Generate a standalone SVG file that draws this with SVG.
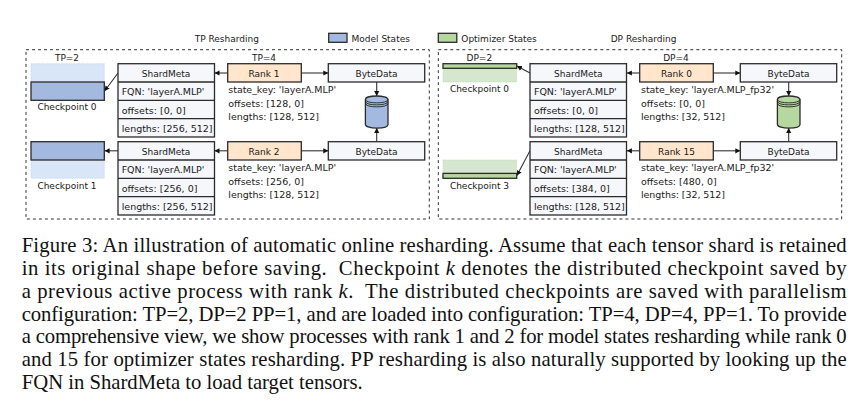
<svg xmlns="http://www.w3.org/2000/svg" width="862" height="418" viewBox="0 0 862 418">
<style>
text{font-family:"DejaVu Sans",sans-serif;font-size:9px;fill:#1a1a1a}
.m{text-anchor:middle}
.d{font-size:9.5px}
.cap{font-family:"Liberation Serif",serif;font-size:20.7px;fill:#111}
.b{stroke:#2b2b2b;stroke-width:1.3}
.shard{fill:#f6f7fb}
.rank{fill:#ffe6cc}
.byte{fill:#f6f7fb}
.blue{fill:#a4b9e0}
.lblue{fill:#d9e6f8;stroke:#b9cdea;stroke-width:.6;stroke-dasharray:1.5 1}
.green{fill:#b6d7a0}
.lgreen{fill:#d6e7cf;stroke:#b9d5ad;stroke-width:.6;stroke-dasharray:1.5 1}
.dash{fill:none;stroke:#333;stroke-width:1;stroke-dasharray:3 3}
.c{fill:none;stroke:#333;stroke-width:1.1;marker-end:url(#a)}
.ring{fill:none;stroke:#222;stroke-width:.9}
</style>
<defs>
<marker id="a" markerUnits="userSpaceOnUse" markerWidth="6" markerHeight="6" refX="5" refY="3" orient="auto"><path d="M0 .4L5 3L0 5.6z" fill="#111"/></marker>
<g id="cyl" class="b">
<path d="M0 3.5C0 -1.2 22.6 -1.2 22.6 3.5V28.5C22.6 33.2 0 33.2 0 28.5Z"/>
<path class="ring" d="M0 3.5C0 8 22.6 8 22.6 3.5M0 5.5C0 10 22.6 10 22.6 5.5M0 7.5C0 12 22.6 12 22.6 7.5"/>
</g>
<g id="meta">
<rect class="b shard" width="96.5" height="73.3"/>
<path class="b" fill="none" d="M0 18.3H96.5M0 36.6H96.5M0 55H96.5"/>
</g>
</defs>

<rect class="dash" x="26" y="49.7" width="403.3" height="169.3"/>
<rect class="dash" x="438.3" y="49.7" width="403.4" height="169.3"/>

<g id="titles">
<text x="194.7" y="41.7">TP Resharding</text>
<text x="610.7" y="41.7">DP Resharding</text>
<text x="67" y="60.7" class="m">TP=2</text>
<text x="264" y="60.7" class="m">TP=4</text>
<text x="479.3" y="60.7" class="m">DP=2</text>
<text x="676" y="60.7" class="m">DP=4</text>
</g>

<g id="legend-model"><rect class="b blue" x="328.7" y="33.3" width="18.3" height="9"/><text x="351.5" y="41.7">Model States</text></g>
<g id="legend-optimizer"><rect class="b green" x="438.3" y="33.3" width="18.5" height="9"/><text x="461.3" y="41.7">Optimizer States</text></g>

<g id="connectors">
<path class="c" d="M118 73L104.6 91"/>
<path class="c" d="M118 150.8H104.6"/>
<path class="c" d="M227.7 73H214.5"/>
<path class="c" d="M227.7 150.8H214.5"/>
<path class="c" d="M301.3 73H328.3"/>
<path class="c" d="M301.3 150.8H328.3"/>
<path class="c" d="M376.7 82V96"/>
<path class="c" d="M376.7 141.7V128"/>
<path class="c" d="M530 73L516.9 66"/>
<path class="c" d="M530 150.8L516.9 175.6"/>
<path class="c" d="M639.7 73H626.9"/>
<path class="c" d="M639.7 150.8H626.9"/>
<path class="c" d="M713.3 73H740.3"/>
<path class="c" d="M713.3 150.8H740.3"/>
<path class="c" d="M788.7 82V96"/>
<path class="c" d="M788.7 141.7V128"/>
</g>

<g id="checkpoint-tp0"><rect class="lblue" x="31" y="63.7" width="73.3" height="18.3"/><rect class="b blue" x="31" y="82" width="73.3" height="18.3"/><text x="67" y="110" class="m">Checkpoint 0</text></g>
<g id="checkpoint-tp1"><rect class="lblue" x="31" y="160" width="73.3" height="18.3"/><rect class="b blue" x="31" y="141.7" width="73.3" height="18.3"/><text x="67" y="188.7" class="m">Checkpoint 1</text></g>

<g id="shardmeta-tp1"><use href="#meta" x="118" y="63.7"/><text x="166" y="76.7" class="m">ShardMeta</text><text class="d" x="121.7" y="94.7" textLength="82.7">FQN: 'layerA.MLP'</text><text class="d" x="121.7" y="113.7" textLength="64">offsets: [0, 0]</text><text class="d" x="121.7" y="132" textLength="90.7">lengths: [256, 512]</text></g>
<g id="shardmeta-tp2"><use href="#meta" x="118" y="141.7"/><text x="166" y="154.7" class="m">ShardMeta</text><text class="d" x="121.7" y="172.7" textLength="82.7">FQN: 'layerA.MLP'</text><text class="d" x="121.7" y="191.7" textLength="75.7">offsets: [256, 0]</text><text class="d" x="121.7" y="210" textLength="90.7">lengths: [256, 512]</text></g>

<g id="rank-1"><rect class="b rank" x="227.7" y="63.7" width="73.6" height="18.3"/><text x="264" y="76.7" class="m">Rank 1</text><text class="d" x="228.3" y="93.3" textLength="107.7">state_key: 'layerA.MLP'</text><text class="d" x="228.3" y="107" textLength="75.7">offsets: [128, 0]</text><text class="d" x="228.3" y="120" textLength="90.7">lengths: [128, 512]</text></g>
<g id="rank-2"><rect class="b rank" x="227.7" y="141.7" width="73.6" height="18.3"/><text x="264" y="154.7" class="m">Rank 2</text><text class="d" x="228.3" y="171" textLength="107.7">state_key: 'layerA.MLP'</text><text class="d" x="228.3" y="185" textLength="75.7">offsets: [256, 0]</text><text class="d" x="228.3" y="198" textLength="90.7">lengths: [128, 512]</text></g>

<g id="bytedata-tp1"><rect class="b byte" x="328.3" y="63.7" width="96.4" height="18.3"/><text x="376.5" y="76.7" class="m">ByteData</text></g>
<g id="bytedata-tp2"><rect class="b byte" x="328.3" y="141.7" width="96.4" height="18.3"/><text x="376.5" y="154.7" class="m">ByteData</text></g>
<g id="store-model"><use href="#cyl" x="365.4" y="96" class="blue"/></g>

<g id="checkpoint-dp0"><rect class="lgreen" x="443" y="68.3" width="73.7" height="13.7"/><rect class="b green" x="443" y="63.7" width="73.7" height="4.6"/><text x="479.5" y="92.3" class="m">Checkpoint 0</text></g>
<g id="checkpoint-dp3"><rect class="lgreen" x="443" y="160" width="73.7" height="13.4"/><rect class="b green" x="443" y="173.4" width="73.7" height="4.9"/><text x="479.5" y="188.7" class="m">Checkpoint 3</text></g>

<g id="shardmeta-dp0"><use href="#meta" x="530" y="63.7"/><text x="578.3" y="76.7" class="m">ShardMeta</text><text class="d" x="534" y="94.7" textLength="82.7">FQN: 'layerA.MLP'</text><text class="d" x="534" y="113.7" textLength="64">offsets: [0, 0]</text><text class="d" x="534" y="132" textLength="90.7">lengths: [128, 512]</text></g>
<g id="shardmeta-dp15"><use href="#meta" x="530" y="141.7"/><text x="578.3" y="154.7" class="m">ShardMeta</text><text class="d" x="534" y="172.7" textLength="82.7">FQN: 'layerA.MLP'</text><text class="d" x="534" y="191.7" textLength="75.7">offsets: [384, 0]</text><text class="d" x="534" y="210" textLength="90.7">lengths: [128, 512]</text></g>

<g id="rank-0"><rect class="b rank" x="639.7" y="63.7" width="73.6" height="18.3"/><text x="676.5" y="76.7" class="m">Rank 0</text><text class="d" x="641" y="93.3" textLength="133">state_key: 'layerA.MLP_fp32'</text><text class="d" x="641" y="107" textLength="64">offsets: [0, 0]</text><text class="d" x="641" y="120" textLength="84">lengths: [32, 512]</text></g>
<g id="rank-15"><rect class="b rank" x="639.7" y="141.7" width="73.6" height="18.3"/><text x="676.5" y="154.7" class="m">Rank 15</text><text class="d" x="641" y="171" textLength="133">state_key: 'layerA.MLP_fp32'</text><text class="d" x="641" y="185" textLength="75.7">offsets: [480, 0]</text><text class="d" x="641" y="198" textLength="84">lengths: [32, 512]</text></g>

<g id="bytedata-dp0"><rect class="b byte" x="740.3" y="63.7" width="96.4" height="18.3"/><text x="788.5" y="76.7" class="m">ByteData</text></g>
<g id="bytedata-dp15"><rect class="b byte" x="740.3" y="141.7" width="96.4" height="18.3"/><text x="788.5" y="154.7" class="m">ByteData</text></g>
<g id="store-optimizer"><use href="#cyl" x="777.4" y="96" class="green"/></g>

<g id="caption">
<text class="cap" x="21.7" y="251.7" textLength="825" lengthAdjust="spacing">Figure 3: An illustration of automatic online resharding. Assume that each tensor shard is retained</text>
<text class="cap" x="21.7" y="274.7" textLength="825" lengthAdjust="spacing" xml:space="preserve">in its original shape before saving.  Checkpoint <tspan font-style="italic">k</tspan> denotes the distributed checkpoint saved by</text>
<text class="cap" x="21.7" y="297.5" textLength="825" lengthAdjust="spacing" xml:space="preserve">a previous active process with rank <tspan font-style="italic">k</tspan>.  The distributed checkpoints are saved with parallelism</text>
<text class="cap" x="21.7" y="320.5" textLength="825" lengthAdjust="spacing">configuration: TP=2, DP=2 PP=1, and are loaded into configuration: TP=4, DP=4, PP=1. To provide</text>
<text class="cap" x="21.7" y="343" textLength="825" lengthAdjust="spacing">a comprehensive view, we show processes with rank 1 and 2 for model states resharding while rank 0</text>
<text class="cap" x="21.7" y="365.7" textLength="825" lengthAdjust="spacing">and 15 for optimizer states resharding. PP resharding is also naturally supported by looking up the</text>
<text class="cap" x="21.7" y="389" textLength="341" lengthAdjust="spacing">FQN in ShardMeta to load target tensors.</text>
</g>
</svg>
